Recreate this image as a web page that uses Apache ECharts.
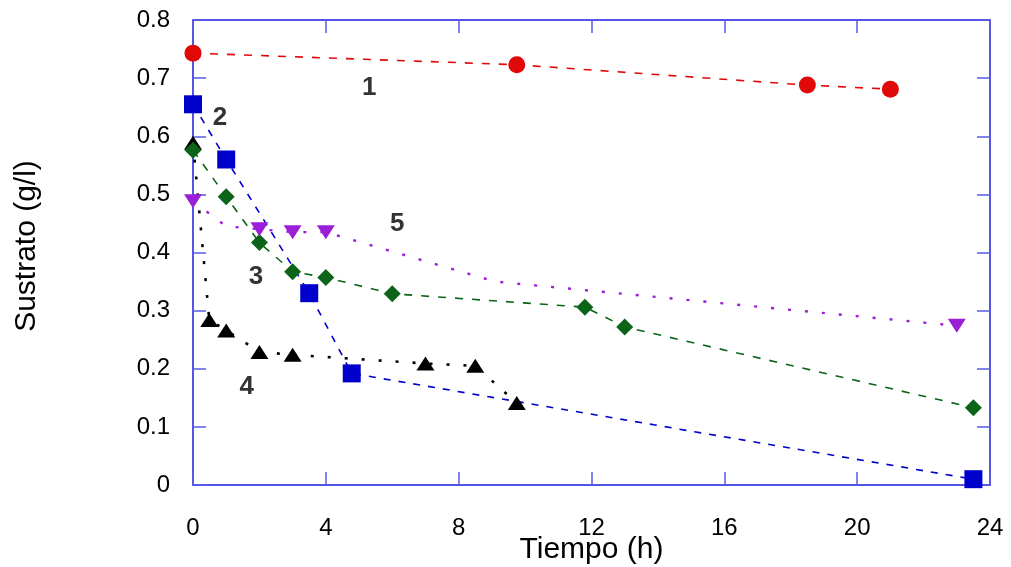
<!DOCTYPE html>
<html>
<head>
<meta charset="utf-8">
<script src="https://cdn.jsdelivr.net/npm/echarts@6/dist/echarts.min.js"></script>
<style>
  html, body { margin: 0; padding: 0; background: #ffffff; }
  #chart { width: 1011px; height: 567px; }
</style>
</head>
<body>
<div id="chart"></div>
<script>
// Substrate concentration (g/l) versus time (h) for five runs.
const xTicks = [0, 4, 8, 12, 16, 20, 24];
const yTicks = [0, 0.1, 0.2, 0.3, 0.4, 0.5, 0.6, 0.7, 0.8];

// Run 1
const t1 = [0, 9.75, 18.5, 21.0];
const s1 = [0.743, 0.723, 0.688, 0.681];
// Run 2
const t2 = [0, 1.0, 3.5, 4.78, 23.5];
const s2 = [0.655, 0.560, 0.330, 0.192, 0.010];
// Run 3
const t3 = [0, 1.0, 2.0, 3.0, 4.0, 6.0, 11.8, 13.0, 23.5];
const s3 = [0.576, 0.496, 0.417, 0.367, 0.357, 0.329, 0.306, 0.272, 0.133];
// Run 4
const t4 = [0, 0.49, 1.0, 2.0, 3.0, 7.0, 8.5, 9.75];
const s4 = [0.589, 0.284, 0.266, 0.229, 0.224, 0.209, 0.205, 0.141];
// Run 5 (vertices without a marker are listed in noMark5)
const t5 = [0, 1.0, 2.0, 3.0, 4.0, 9.1, 23.0];
const s5 = [0.488, 0.445, 0.440, 0.435, 0.435, 0.350, 0.274];
const noMark5 = [1, 5];

// Curve numbers placed next to each run
const tagText = ['1', '2', '3', '4', '5'];
const tagT = [5.31, 0.81, 1.90, 1.62, 6.15];
const tagS = [0.684, 0.631, 0.358, 0.169, 0.450];

const pairs = (xs, ys) => xs.map((x, i) => [x, ys[i]]);

const axisBlue = '#1c1cdc';
const tickBlue = '#5a5aea';
const font = 'Arial, "Liberation Sans", sans-serif';

function lineSeries(name, data, color, dash, width, symbol, size, extra) {
  return Object.assign({
    name: name,
    type: 'line',
    data: data,
    symbol: symbol,
    symbolSize: size,
    showAllSymbol: true,
    itemStyle: { color: color },
    lineStyle: { color: color, width: width, type: dash },
    emphasis: { disabled: true },
    animation: false
  }, extra || {});
}

const data5 = pairs(t5, s5).map((p, i) =>
  noMark5.indexOf(i) >= 0 ? { value: p, symbol: 'none' } : { value: p });

function frameAxis(position, min, max, step) {
  return {
    type: 'value', position: position,
    min: min, max: max, interval: step,
    axisLine: { show: true, onZero: false, lineStyle: { color: axisBlue, width: 1.5 } },
    axisTick: { show: true, inside: true, length: 13, lineStyle: { color: tickBlue, width: 1.5 } },
    axisLabel: { show: false },
    splitLine: { show: false }
  };
}

const chart = echarts.init(document.getElementById('chart'), null, { renderer: 'canvas' });

chart.setOption({
  backgroundColor: '#ffffff',
  animation: false,
  grid: {
    left: 193, right: 21, top: 20, bottom: 82,
    containLabel: false, outerBoundsMode: 'none'
  },
  xAxis: [
    {
      type: 'value', position: 'bottom',
      min: xTicks[0], max: xTicks[xTicks.length - 1], interval: 4,
      name: 'Tiempo (h)', nameLocation: 'middle', nameGap: 50, nameMoveOverlap: false,
      nameTextStyle: { fontFamily: font, fontSize: 30, color: '#000' },
      axisLine: { show: true, onZero: false, lineStyle: { color: axisBlue, width: 1.5 } },
      axisTick: { show: true, inside: true, length: 13, lineStyle: { color: tickBlue, width: 1.5 } },
      axisLabel: { margin: 31, fontFamily: font, fontSize: 24, color: '#000' },
      splitLine: { show: false }
    },
    frameAxis('top', xTicks[0], xTicks[xTicks.length - 1], 4)
  ],
  yAxis: [
    {
      type: 'value', position: 'left',
      min: yTicks[0], max: yTicks[yTicks.length - 1], interval: 0.1,
      name: 'Sustrato (g/l)', nameLocation: 'middle', nameGap: 151, nameMoveOverlap: false,
      nameTextStyle: { fontFamily: font, fontSize: 30, color: '#000', padding: [0, 0, 0, 13] },
      axisLine: { show: true, onZero: false, lineStyle: { color: axisBlue, width: 1.5 } },
      axisTick: { show: true, inside: true, length: 13, lineStyle: { color: tickBlue, width: 1.5 } },
      axisLabel: {
        margin: 23, fontFamily: font, fontSize: 24, color: '#000',
        formatter: v => (Math.round(v * 10) / 10).toString()
      },
      splitLine: { show: false }
    },
    frameAxis('right', yTicks[0], yTicks[yTicks.length - 1], 0.1)
  ],
  series: [
    lineSeries('1', pairs(t1, s1), '#e00808', [8, 9], 1.6, 'circle', 17),
    lineSeries('2', pairs(t2, s2), '#0000cc', [7, 8], 1.6, 'rect', 18),
    lineSeries('4', pairs(t4, s4), '#000000', [3, 14], 2.6, 'triangle', [18, 14]),
    lineSeries('3', pairs(t3, s3), '#0b6418', [8, 9], 1.6, 'diamond', 17),
    lineSeries('5', data5, '#9b1fd8', [3, 14], 2.4, 'triangle', [18, 14], { symbolRotate: 180 }),
    {
      name: 'etiquetas',
      type: 'scatter',
      symbolSize: 0,
      silent: true,
      data: tagText.map((txt, i) => ({ name: txt, value: [tagT[i], tagS[i]] })),
      label: {
        show: true, position: 'inside', formatter: p => p.name,
        fontFamily: font, fontSize: 26, fontWeight: 'bold', color: '#000',
        textBorderWidth: 0
      },
      animation: false
    }
  ]
});
</script>
</body>
</html>
